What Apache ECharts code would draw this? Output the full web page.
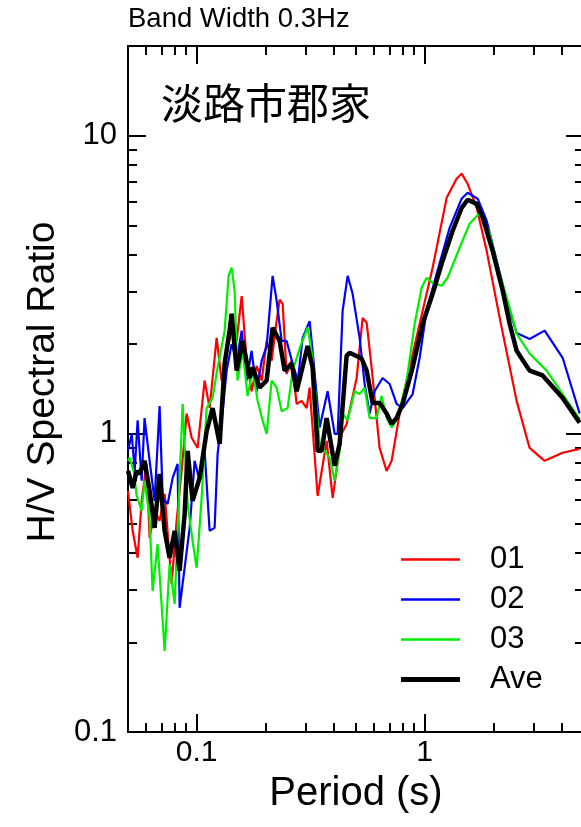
<!DOCTYPE html>
<html>
<head>
<meta charset="utf-8">
<script src="https://cdn.jsdelivr.net/npm/echarts@6/dist/echarts.min.js"></script>
<style>
html,body{margin:0;padding:0;background:#fff;}
#chart{width:581px;height:827px;}
</style>
</head>
<body>
<div id="chart"></div>
<script>
// ---- data (period in s, H/V ratio) ----
const p01 = [0.05,0.0524,0.0551,0.0574,0.0603,0.0622,0.0654,0.0688,0.0724,0.0777,0.0817,0.0859,0.0904,0.0951,0.101,0.1084,0.114,0.1224,0.1287,0.1354,0.1424,0.1498,0.1576,0.1657,0.1742,0.1833,0.1929,0.2028,0.2133,0.2243,0.2312,0.2384,0.2481,0.261,0.2746,0.2887,0.3038,0.313,0.3394,0.3717,0.395,0.4325,0.4549,0.5033,0.5346,0.5568,0.5853,0.6345,0.6813,0.7166,0.7772,0.8339,0.9508,1.084,1.249,1.381,1.453,1.544,1.691,1.871,2.134,2.532,2.887,3.36,4.03,4.785];
const v01 = [0.644,0.473,0.384,0.596,0.793,0.448,0.552,0.511,0.629,0.314,0.511,0.751,1.17,0.970,0.897,1.51,1.22,2.10,1.51,1.90,2.22,2.05,2.90,1.76,1.39,1.69,1.51,2.05,1.76,2.39,2.82,2.73,1.59,1.76,1.26,1.29,1.22,1.43,0.619,0.947,0.610,1.00,1.08,1.54,2.45,2.36,1.67,0.897,0.751,0.812,1.17,1.51,2.34,3.61,6.19,7.17,7.46,6.90,5.73,4.11,2.45,1.29,0.897,0.812,0.864,0.891];

const p02 = [0.05,0.0519,0.0535,0.0551,0.0574,0.0591,0.0622,0.0654,0.0688,0.071,0.0746,0.0785,0.0825,0.0842,0.0868,0.0932,0.098,0.1031,0.1084,0.114,0.1199,0.1236,0.13,0.1354,0.1424,0.1498,0.1576,0.1657,0.1742,0.1833,0.1929,0.2028,0.2154,0.2243,0.236,0.2481,0.2637,0.2779,0.2917,0.313,0.3226,0.3463,0.3754,0.4031,0.4155,0.4369,0.4596,0.4832,0.5186,0.5456,0.5737,0.6034,0.654,0.7022,0.7536,0.8008,0.8859,0.9508,1.02,1.129,1.287,1.453,1.544,1.708,1.871,2.07,2.29,2.532,2.887,3.36,4.03,4.785];
const v02 = [0.877,1.00,0.751,1.11,0.696,1.13,0.812,0.596,1.24,0.610,0.582,0.712,0.793,0.261,0.314,0.484,0.812,0.696,0.877,0.473,0.484,0.857,1.19,1.63,2.00,1.76,2.22,1.51,1.90,1.39,1.76,1.97,3.39,2.80,2.05,2.05,1.72,1.51,2.10,2.39,1.90,1.05,1.39,1.00,1.00,2.59,3.39,2.95,2.10,1.47,1.17,1.39,1.54,1.47,1.26,1.22,1.36,1.80,2.59,3.44,4.91,6.15,6.44,6.15,5.19,3.81,2.80,2.18,2.08,2.22,1.80,1.17];

const p03 = [0.05,0.0508,0.0529,0.0546,0.0574,0.0591,0.0622,0.0641,0.0674,0.0724,0.0761,0.0801,0.0842,0.0868,0.0913,0.096,0.1,0.1052,0.1106,0.1175,0.1236,0.1327,0.1381,0.1424,0.1468,0.1512,0.1592,0.1673,0.176,0.1852,0.1947,0.2028,0.2133,0.2243,0.236,0.2506,0.2637,0.2853,0.3068,0.3226,0.3463,0.3831,0.4031,0.4238,0.4369,0.4596,0.4932,0.5186,0.5456,0.5737,0.6158,0.6474,0.6813,0.7166,0.7613,0.8339,0.9041,0.9701,1.02,1.084,1.188,1.261,1.424,1.575,1.743,1.929,2.134,2.36,2.532,2.887,3.428,4.03,4.785];
const v03 = [0.812,0.831,0.751,0.62,0.552,0.696,0.523,0.297,0.427,0.187,0.366,0.269,0.696,1.26,0.582,0.437,0.355,0.610,1.22,1.32,1.67,2.22,3.39,3.61,3.02,1.51,1.90,1.34,1.63,1.29,1.11,1.00,1.51,1.43,1.19,1.22,1.63,1.97,2.27,1.80,0.926,0.831,0.696,0.877,1.17,1.11,1.39,1.36,1.43,1.13,1.13,1.34,1.13,1.05,1.13,1.51,2.34,3.09,3.34,3.21,3.14,3.34,4.21,5.07,5.51,4.69,3.44,2.65,2.17,1.86,1.63,1.36,1.12];

const pAve = [0.05,0.0524,0.0546,0.0562,0.0591,0.0622,0.0654,0.0688,0.0724,0.0761,0.0801,0.0842,0.0886,0.0913,0.096,0.1031,0.1106,0.1175,0.1262,0.1327,0.1395,0.1424,0.1498,0.1592,0.1708,0.176,0.1889,0.2028,0.2154,0.2312,0.2432,0.261,0.2746,0.3068,0.3226,0.3394,0.3534,0.3717,0.4031,0.4238,0.4549,0.469,0.5292,0.5568,0.5913,0.6345,0.6813,0.7166,0.7536,0.8008,0.8859,0.98,1.084,1.199,1.327,1.453,1.544,1.691,1.797,1.988,2.2,2.36,2.532,2.887,3.292,4.03,4.785];
const vAve = [0.751,0.659,0.751,0.734,0.812,0.644,0.484,0.734,0.473,0.384,0.473,0.347,0.539,0.877,0.596,0.712,1.02,1.22,0.926,1.72,2.22,2.53,1.63,2.05,1.54,1.67,1.43,1.51,2.27,2.05,1.63,1.72,1.39,1.97,1.67,0.877,0.877,1.13,0.781,0.926,1.83,1.87,1.79,1.63,1.27,1.27,1.17,1.08,1.13,1.26,1.67,2.34,2.95,3.81,4.80,5.73,6.10,5.91,5.31,4.11,3.02,2.34,1.90,1.63,1.57,1.32,1.09];

const seriesNames = ['01','02','03','Ave'];
const xMajorTicks = [0.1, 1];
const xMinorTicks = [0.06,0.07,0.08,0.09,0.2,0.3,0.4,0.5,0.6,0.7,0.8,0.9,2,3,4];
const xTickLabels = ['0.1','1'];
const yMajorTicks = [0.1, 1, 10];
const yMinorTicks = [0.2,0.3,0.4,0.5,0.6,0.7,0.8,0.9,2,3,4,5,6,7,8,9];
const yTickLabels = ['0.1','1','10'];

const FONT = '"Liberation Sans", Arial, Helvetica, sans-serif';
const zip = (p, v) => p.map((t, i) => [t, v[i]]);

function mkAxis(kind, pos, major, opts) {
  const isX = kind === 'x';
  const ax = {
    type: 'log', logBase: 10, gridIndex: 0, position: pos,
    min: isX ? 0.05 : 0.1, max: isX ? 5 : 20,
    splitLine: { show: false }, minorTick: { show: false }, minorSplitLine: { show: false },
    axisLine: { show: major, lineStyle: { color: '#000', width: 2 } },
    axisTick: {
      show: true, inside: true, length: major ? 18 : 9,
      lineStyle: { color: '#000', width: 2 },
      customValues: major ? (isX ? xMajorTicks : yMajorTicks) : (isX ? xMinorTicks : yMinorTicks)
    },
    axisLabel: { show: false },
    axisPointer: { show: false },
    silent: true
  };
  return Object.assign(ax, opts || {});
}

const chart = echarts.init(document.getElementById('chart'), null, { renderer: 'canvas' });
const option = {
  animation: false,
  backgroundColor: '#fff',
  title: [
    { text: 'Band Width 0.3Hz', left: 128, top: 5, padding: 0,
      textStyle: { fontFamily: FONT, fontSize: 27.5, fontWeight: 'normal', color: '#000' } },
    { text: '淡路市郡家', left: 161, top: 82, padding: 0,
      textStyle: { fontFamily: '"Noto Sans CJK JP", sans-serif', fontSize: 42, fontWeight: 'normal', color: '#000' } }
  ],
  grid: { left: 128, top: 46, width: 456, height: 686, containLabel: false, outerBoundsMode: 'none', show: false },
  legend: {
    orient: 'vertical', left: 396, top: 539,
    itemWidth: 59, itemHeight: 30, itemGap: 9,
    itemStyle: { borderWidth: 0 },
    textStyle: { fontFamily: FONT, fontSize: 31, color: '#000', padding: [0, 0, 0, 25], lineHeight: 30 },
    selectedMode: false,
    data: [
      { name: '01', icon: 'path://M0,0H59V2.4H0Z' },
      { name: '02', icon: 'path://M0,0H59V2.4H0Z' },
      { name: '03', icon: 'path://M0,0H59V2.4H0Z' },
      { name: 'Ave', icon: 'path://M0,0H59V4.8H0Z' }
    ]
  },
  xAxis: [
    mkAxis('x', 'bottom', true, {
      axisLabel: { show: true, customValues: xMajorTicks, margin: 6, fontSize: 30, fontFamily: FONT, color: '#000',
        formatter: v => xTickLabels[xMajorTicks.findIndex(t => Math.abs(t - v) < 1e-9 * (1 + t))] || String(v) },
      name: 'Period (s)', nameLocation: 'middle', nameGap: 42,
      nameTextStyle: { fontFamily: FONT, fontSize: 40, color: '#000' }
    }),
    mkAxis('x', 'bottom', false),
    mkAxis('x', 'top', true),
    mkAxis('x', 'top', false)
  ],
  yAxis: [
    mkAxis('y', 'left', true, {
      axisLabel: { show: true, customValues: yMajorTicks, margin: 11, fontSize: 31, fontFamily: FONT, color: '#000',
        formatter: v => yTickLabels[yMajorTicks.findIndex(t => Math.abs(t - v) < 1e-9 * (1 + t))] || String(v) },
      name: 'H/V Spectral Ratio', nameLocation: 'middle', nameGap: 64,
      nameTextStyle: { fontFamily: FONT, fontSize: 39, color: '#000', padding: [0, 0, 0, 14] }
    }),
    mkAxis('y', 'left', false),
    mkAxis('y', 'right', true),
    mkAxis('y', 'right', false)
  ],
  series: [
    { name: seriesNames[0], type: 'line', xAxisIndex: 0, yAxisIndex: 0, symbol: 'none', color: '#ff0000',
      lineStyle: { width: 2.2, color: '#ff0000' }, data: zip(p01, v01) },
    { name: seriesNames[1], type: 'line', xAxisIndex: 0, yAxisIndex: 0, symbol: 'none', color: '#0000ff',
      lineStyle: { width: 2.2, color: '#0000ff' }, data: zip(p02, v02) },
    { name: seriesNames[2], type: 'line', xAxisIndex: 0, yAxisIndex: 0, symbol: 'none', color: '#00ee00',
      lineStyle: { width: 2.2, color: '#00ee00' }, data: zip(p03, v03) },
    { name: seriesNames[3], type: 'line', xAxisIndex: 0, yAxisIndex: 0, symbol: 'none', color: '#000000',
      lineStyle: { width: 4.5, color: '#000000' }, data: zip(pAve, vAve) }
  ]
};
chart.setOption(option);
</script>
</body>
</html>
